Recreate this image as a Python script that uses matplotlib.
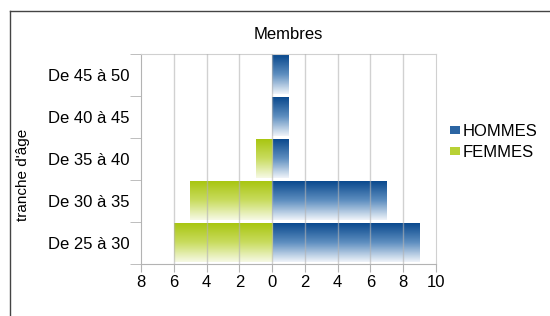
import numpy as np
import matplotlib
matplotlib.use("Agg")
import matplotlib.pyplot as plt
from matplotlib.colors import LinearSegmentedColormap
from matplotlib.lines import Line2D
from matplotlib.patches import Patch

plt.rcParams['font.family'] = ['Liberation Sans', 'DejaVu Sans']

categories = ["De 25 à 30", "De 30 à 35", "De 35 à 40", "De 40 à 45", "De 45 à 50"]
hommes = [9, 7, 1, 1, 1]
femmes = [6, 5, 1, 0, 0]
xticks = [-8, -6, -4, -2, 0, 2, 4, 6, 8, 10]

blue_cmap = LinearSegmentedColormap.from_list("b", ["#0b4a8e", "#5f8fc0", "#eef3f9"])
green_cmap = LinearSegmentedColormap.from_list("g", ["#a9c612", "#c9dc60", "#f6f9e4"])

fig = plt.figure(figsize=(5.5, 3.16), dpi=100)
ax = fig.add_axes([141 / 550, 1 - 264 / 316, (436 - 141) / 550, (264 - 54) / 316])

grad = np.linspace(0, 1, 64).reshape(-1, 1)
h = 0.92
for i, (m, f) in enumerate(zip(hommes, femmes)):
    y = np.arange(len(categories))[i]
    for val, cmap in ((m, blue_cmap), (-f, green_cmap)):
        if val == 0:
            continue
        x0, x1 = sorted((0, val))
        ax.imshow(grad, cmap=cmap, aspect='auto', origin='upper',
                  extent=(x0, x1, y - h / 2, y + h / 2), zorder=2,
                  interpolation='bilinear')

ax.set_xlim(-8, 10)
ax.set_ylim(-0.5, len(categories) - 0.5)

for x in xticks[1:-1]:
    ax.axvline(x, color="#b3b3b3", lw=1, zorder=3, alpha=0.6)

ax.set_xticks(xticks)
ax.set_xticklabels([str(abs(v)) for v in xticks], fontsize=12)
ax.set_yticks(np.arange(len(categories)))
ax.set_yticklabels(categories, fontsize=12)
ax.tick_params(axis='y', length=0, pad=8)
ax.set_yticks(np.arange(len(categories) + 1) - 0.5, minor=True)
ax.tick_params(axis='y', which='minor', length=8, color="#b3b3b3")
ax.tick_params(axis='x', length=6, color="#b3b3b3", pad=2)

for s in ("left", "bottom"):
    ax.spines[s].set_color("#b3b3b3")
for s in ("top", "right"):
    ax.spines[s].set_color("#d0d0d0")

ax.set_title("Membres", fontsize=12, pad=11)
fig.text(23 / 550, 1 - 175 / 316, "tranche d'âge", rotation=90, fontsize=11,
         ha='center', va='center')

handles = [Patch(facecolor="#2c65a3", edgecolor="none"),
           Patch(facecolor="#b8d135", edgecolor="none")]
ax.legend(handles, ["HOMMES", "FEMMES"], loc='center left',
          bbox_to_anchor=(443 / 550, 1 - 142 / 316), bbox_transform=fig.transFigure,
          frameon=False, fontsize=12, handlelength=0.6, handleheight=0.35,
          handletextpad=0.2, labelspacing=0.35, borderaxespad=0)

fig.add_artist(Line2D([10 / 550, 10 / 550], [0, 1 - 11 / 316], color="#444444", lw=1))
fig.add_artist(Line2D([10 / 550, 1], [1 - 11 / 316, 1 - 11 / 316], color="#444444", lw=1))

fig.savefig("out.png", dpi=100)
